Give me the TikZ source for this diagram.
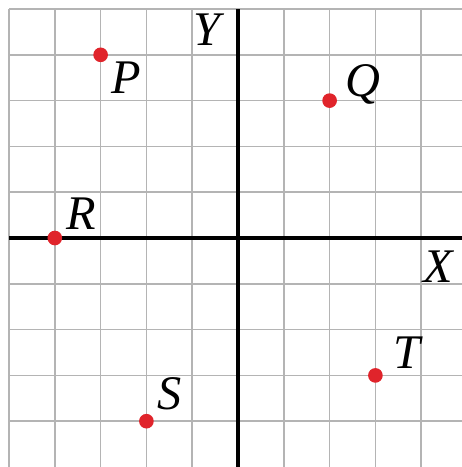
\documentclass[tikz,border=0pt]{standalone}
\usepackage{fontspec}
\setmainfont{Liberation Serif}
\usepackage{tikz}
\usetikzlibrary{positioning, calc}
\definecolor{gridgray}{HTML}{b4b4b4}
\definecolor{dotred}{HTML}{e0242b}

\begin{document}
\begin{tikzpicture}[
  gridline/.style={draw=gridgray, line width=0.9pt},
  axisline/.style={draw=black, line width=2.6pt},
  dot/.style={circle, fill=dotred, inner sep=0pt, minimum size=0.32cm},
  ptlabel/.style={font=\fontsize{30}{30}\selectfont\itshape, inner sep=0pt}
]
\useasboundingbox (-5.197,-5.0) rectangle (4.89,5.197);

% grid and axes
\draw[gridline] (-5,-4.999) grid (5,5);
\draw[axisline] (-5,0) -- (5,0);
\draw[axisline] (0,-5) -- (0,5);

\node[ptlabel] (xlab) at (4.37,-0.62) {X};
\node[ptlabel] (ylab) at (-0.68,4.55) {Y};

% points
\node[dot] (P) at (-3,4) {};
\node[dot] (Q) at (2,3) {};
\node[dot] (R) at (-4,0) {};
\node[dot] (S) at (-2,-4) {};
\node[dot] (T) at (3,-3) {};

\node[ptlabel] (Plab) at ($(P)+(0.55,-0.5)$) {P};
\node[ptlabel] (Qlab) at ($(Q)+(0.72,0.36)$) {Q};
\node[ptlabel] (Rlab) at ($(R)+(0.57,0.53)$) {R};
\node[ptlabel] (Slab) at ($(S)+(0.5,0.6)$) {S};
\node[ptlabel] (Tlab) at ($(T)+(0.68,0.5)$) {T};

\end{tikzpicture}
\end{document}
